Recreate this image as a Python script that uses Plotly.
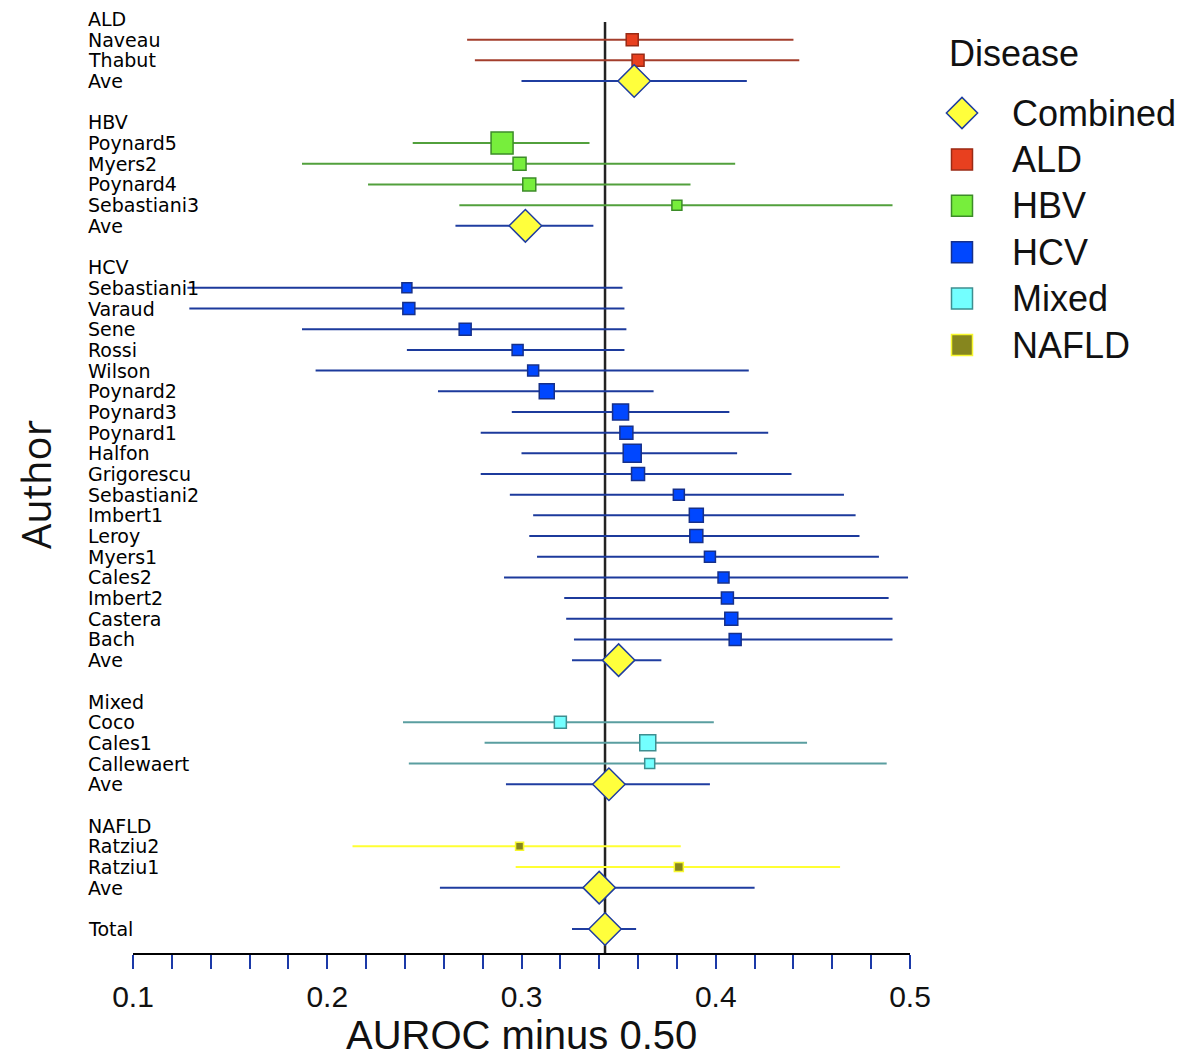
import plotly.graph_objects as go

# ---------------- data ----------------
diseases = ["ALD", "HBV", "HCV", "Mixed", "NAFLD"]

ald_authors = ["Naveau", "Thabut"]
ald_est = [0.357, 0.360]
ald_lo = [0.272, 0.276]
ald_hi = [0.440, 0.443]
ald_w = [12, 12]

hbv_authors = ["Poynard5", "Myers2", "Poynard4", "Sebastiani3"]
hbv_est = [0.290, 0.299, 0.304, 0.380]
hbv_lo = [0.244, 0.187, 0.221, 0.268]
hbv_hi = [0.335, 0.410, 0.387, 0.491]
hbv_w = [22, 13, 13, 10]

hcv_authors = ["Sebastiani1", "Varaud", "Sene", "Rossi", "Wilson", "Poynard2",
               "Poynard3", "Poynard1", "Halfon", "Grigorescu", "Sebastiani2",
               "Imbert1", "Leroy", "Myers1", "Cales2", "Imbert2", "Castera", "Bach"]
hcv_est = [0.241, 0.242, 0.271, 0.298, 0.306, 0.313, 0.351, 0.354, 0.357, 0.360,
           0.381, 0.390, 0.390, 0.397, 0.404, 0.406, 0.408, 0.410]
hcv_lo = [0.128, 0.129, 0.187, 0.241, 0.194, 0.257, 0.295, 0.279, 0.300, 0.279,
          0.294, 0.306, 0.304, 0.308, 0.291, 0.322, 0.323, 0.327]
hcv_hi = [0.352, 0.353, 0.354, 0.353, 0.417, 0.368, 0.407, 0.427, 0.411, 0.439,
          0.466, 0.472, 0.474, 0.484, 0.499, 0.489, 0.491, 0.491]
hcv_w = [10, 12, 12, 11, 11, 15, 16, 13, 18, 13, 11, 14, 13, 11, 11, 12, 13, 12]

mixed_authors = ["Coco", "Cales1", "Callewaert"]
mixed_est = [0.320, 0.365, 0.366]
mixed_lo = [0.239, 0.281, 0.242]
mixed_hi = [0.399, 0.447, 0.488]
mixed_w = [12, 16, 10]

nafld_authors = ["Ratziu2", "Ratziu1"]
nafld_est = [0.299, 0.381]
nafld_lo = [0.213, 0.297]
nafld_hi = [0.382, 0.464]
nafld_w = [8, 9]

# combined ("Ave") estimates per disease, in the order of `diseases`
ave_est = [0.358, 0.302, 0.350, 0.345, 0.340]
ave_lo = [0.300, 0.266, 0.326, 0.292, 0.258]
ave_hi = [0.416, 0.337, 0.372, 0.397, 0.420]

total_est = 0.343
total_lo = 0.326
total_hi = 0.359

x_ticks = [0.1, 0.2, 0.3, 0.4, 0.5]
x_tick_labels = ["0.1", "0.2", "0.3", "0.4", "0.5"]

# ---------------- styles / layout geometry ----------------
OFF = 8                      # page body margin of the exported html
FW, FH = 1183 - OFF, 1059 - OFF


def px(x):   # window pixel -> paper x
    return (x - OFF) / FW


def py(y):   # window pixel -> paper y
    return 1 - (y - OFF) / FH


fill = {"ALD": "#E8401F", "HBV": "#77EE3C", "HCV": "#0047FF",
        "Mixed": "#73FFFF", "NAFLD": "#86861E"}
edge = {"ALD": "#9A2A14", "HBV": "#3C8C28", "HCV": "#16308A",
        "Mixed": "#3E8E90", "NAFLD": "#F7F72E"}
ci_col = {"ALD": "#A33E2C", "HBV": "#52A03C", "HCV": "#1C3A9C",
          "Mixed": "#5A9EA0", "NAFLD": "#FFFF33"}
comb_fill, comb_edge = "#FFFF3C", "#1F3DA0"

groups = {
    "ALD": (ald_authors, ald_est, ald_lo, ald_hi, ald_w),
    "HBV": (hbv_authors, hbv_est, hbv_lo, hbv_hi, hbv_w),
    "HCV": (hcv_authors, hcv_est, hcv_lo, hcv_hi, hcv_w),
    "Mixed": (mixed_authors, mixed_est, mixed_lo, mixed_hi, mixed_w),
    "NAFLD": (nafld_authors, nafld_est, nafld_lo, nafld_hi, nafld_w),
}

fig = go.Figure()
labels, label_rows = [], []
ave_rows = []
row = 0
for d in diseases:
    authors, est, lo, hi, w = groups[d]
    labels.append(d); label_rows.append(row)
    rows = [row + 1 + i for i in range(len(authors))]
    labels += authors; label_rows += rows
    fig.add_trace(go.Scatter(
        x=est, y=rows, mode="markers", name=d, showlegend=False,
        marker=dict(symbol="square", size=w, color=fill[d], opacity=1,
                    line=dict(color=edge[d], width=1.5)),
        error_x=dict(type="data", symmetric=False,
                     array=[h - e for h, e in zip(hi, est)],
                     arrayminus=[e - l for e, l in zip(est, lo)],
                     color=ci_col[d], thickness=2, width=0),
    ))
    ave_row = row + len(authors) + 1
    labels.append("Ave"); label_rows.append(ave_row)
    ave_rows.append(ave_row)
    row = ave_row + 2
total_row = row
labels.append("Total"); label_rows.append(total_row)

comb_x = ave_est + [total_est]
comb_lo = ave_lo + [total_lo]
comb_hi = ave_hi + [total_hi]
comb_rows = ave_rows + [total_row]
fig.add_trace(go.Scatter(
    x=comb_x, y=comb_rows, mode="markers", name="Combined", showlegend=False,
    marker=dict(symbol="diamond", size=25, color=comb_fill, opacity=1,
                line=dict(color=comb_edge, width=1.5)),
    error_x=dict(type="data", symmetric=False,
                 array=[h - e for h, e in zip(comb_hi, comb_x)],
                 arrayminus=[e - l for e, l in zip(comb_x, comb_lo)],
                 color=comb_edge, thickness=2, width=0),
))

# ---------------- legend (drawn on a pixel-scaled overlay axis) ----------------
leg_names = ["Combined"] + diseases
leg_x_sym, leg_x_txt, leg_y0, leg_step = 962, 1010, 113, 46.4
leg_y = [leg_y0 + i * leg_step for i in range(len(leg_names))]
fig.add_trace(go.Scatter(
    x=[leg_x_sym], y=[leg_y[0]], xaxis="x2", yaxis="y2", mode="markers",
    showlegend=False, hoverinfo="skip",
    marker=dict(symbol="diamond", size=24, color=comb_fill,
                line=dict(color=comb_edge, width=1.5))))
fig.add_trace(go.Scatter(
    x=[leg_x_sym] * len(diseases), y=leg_y[1:], xaxis="x2", yaxis="y2",
    mode="markers", showlegend=False, hoverinfo="skip",
    marker=dict(symbol="square", size=21, color=[fill[d] for d in diseases],
                opacity=1, line=dict(color=[edge[d] for d in diseases], width=1.5))))

annotations = []
for lab, r in zip(labels, label_rows):
    annotations.append(dict(
        text=lab, x=px(86), xref="paper", xanchor="left", y=r, yref="y",
        yanchor="middle", showarrow=False,
        font=dict(family="DejaVu Sans", size=19, color="black")))
for name, yy in zip(leg_names, leg_y):
    annotations.append(dict(
        text=name, x=leg_x_txt, xref="x2", xanchor="left", y=yy, yref="y2",
        yanchor="middle", showarrow=False,
        font=dict(family="Liberation Sans", size=36, color="#111")))
annotations.append(dict(
    text="Disease", x=947, xref="x2", xanchor="left", y=53, yref="y2",
    yanchor="middle", showarrow=False,
    font=dict(family="Liberation Sans", size=36, color="#111")))
annotations.append(dict(
    text="AUROC minus 0.50", x=px((133 + 910) / 2), xref="paper", xanchor="center",
    y=0, yref="paper", yanchor="bottom", showarrow=False,
    font=dict(family="Liberation Sans", size=40, color="#111")))
annotations.append(dict(
    text="Author", x=px(35), xref="paper", xanchor="center",
    y=py(485), yref="paper", yanchor="middle", showarrow=False, textangle=-90,
    font=dict(family="Open Sans", size=40, color="#111")))

# vertical axis geometry in window pixels
row_top_px, row_bot_px, axis_px, plot_top_px = 19, 929, 953, OFF
row_px = (row_bot_px - row_top_px) / total_row
y_lo = total_row + (axis_px - row_bot_px) / row_px
y_hi = -(row_top_px - plot_top_px) / row_px

fig.add_shape(type="line", xref="x", yref="y domain", x0=total_est, x1=total_est,
              y0=0, y1=(axis_px - 22) / (axis_px - plot_top_px),
              line=dict(color="#222222", width=2.5), layer="below")

tick_col = "#1C3AA8"
fig.update_layout(
    width=FW, height=FH, margin=dict(l=0, r=0, t=0, b=0, autoexpand=False),
    paper_bgcolor="white", plot_bgcolor="rgba(0,0,0,0)", showlegend=False,
    annotations=annotations,
    xaxis=dict(domain=[px(133), px(910)], range=[0.1, 0.5], anchor="y",
               tickvals=x_ticks, ticktext=x_tick_labels,
               ticks="outside", ticklen=14, tickwidth=2, tickcolor=tick_col,
               minor=dict(dtick=0.02, tick0=0, ticks="outside", ticklen=14,
                          tickwidth=2, tickcolor=tick_col, showgrid=False),
               showline=True, linecolor="black", linewidth=2,
               showgrid=False, zeroline=False, ticklabelstandoff=2,
               tickfont=dict(family="Liberation Sans", size=30, color="#111")),
    yaxis=dict(domain=[py(axis_px), py(plot_top_px)], range=[y_lo, y_hi],
               anchor="x", visible=False),
    xaxis2=dict(domain=[0, 1], range=[OFF, OFF + FW], anchor="y2", visible=False),
    yaxis2=dict(domain=[0, 1], range=[OFF + FH, OFF], anchor="x2", visible=False),
)

fig.write_html("out.html")
